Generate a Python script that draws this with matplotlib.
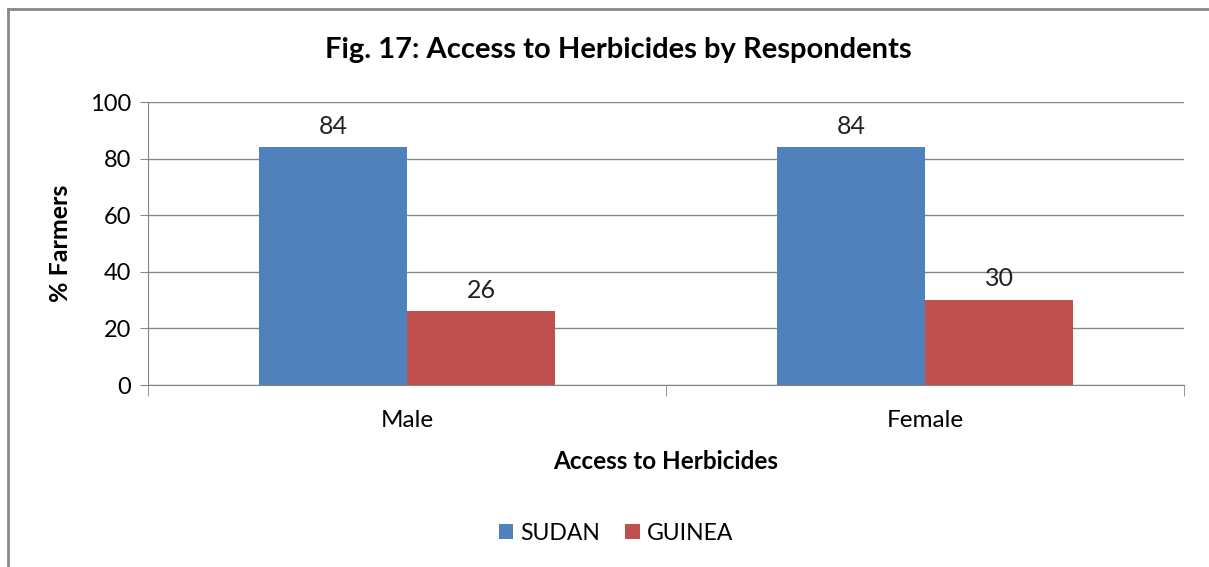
import matplotlib.pyplot as plt
import numpy as np
from matplotlib.lines import Line2D

plt.rcParams['font.family'] = ['Lato', 'DejaVu Sans']

CATEGORIES = ['Male', 'Female']
SERIES = ['SUDAN', 'GUINEA']
SUDAN = [84, 84]
GUINEA = [26, 30]
COLORS = ['#4F81BD', '#C0504D']
Y_TICKS = [0, 20, 40, 60, 80, 100]

fig = plt.figure(figsize=(12.09, 5.67), dpi=100)
ax = fig.add_axes([148 / 1209, 1 - 385 / 567, 1036 / 1209, 283 / 567])

x = np.arange(len(CATEGORIES))
w = 148 / 518
for i, (vals, name) in enumerate(zip([SUDAN, GUINEA], SERIES)):
    pos = x + (i - 0.5) * w
    bars = ax.bar(pos, vals, width=w, color=COLORS[i], label=name, zorder=3)
    for b, v in zip(bars, vals):
        ax.annotate(str(v), (b.get_x() + b.get_width() / 2, v),
                    xytext=(0, 7), textcoords='offset points',
                    ha='center', va='bottom', fontsize=18, color='#222222')

ax.set_xlim(-0.5, 1.5)
ax.set_ylim(0, 100)
ax.set_yticks(Y_TICKS)
ax.tick_params(axis='y', labelsize=17, length=6, color='#868686', pad=6)
ax.yaxis.grid(True, color='#868686', linewidth=1, zorder=0)

ax.set_xticks(x)
ax.set_xticklabels(CATEGORIES, fontsize=17.5)
ax.set_xticks([-0.5, 0.5, 1.5], minor=True)
ax.tick_params(axis='x', which='major', length=0, pad=18)
ax.tick_params(axis='x', which='minor', length=8, color='#868686')

for s in ['top', 'right']:
    ax.spines[s].set_visible(False)
ax.spines['left'].set_color('#868686')
ax.spines['bottom'].set_color('#868686')

ax.set_xlabel('Access to Herbicides', fontsize=17.5, fontweight='bold', labelpad=14)
fig.text(60 / 1209, 1 - 243 / 567, '% Farmers', rotation=90, fontsize=18,
         fontweight='bold', ha='center', va='center')

fig.text(618 / 1209, 1 - 50 / 567, 'Fig. 17: Access to Herbicides by Respondents',
         fontsize=21, fontweight='bold', ha='center', va='center')

fig.legend(loc='center', bbox_to_anchor=(616 / 1209, 1 - 533 / 567), ncol=2,
           frameon=False, fontsize=16.5, handlelength=0.65, handleheight=0.65,
           columnspacing=1.1, handletextpad=0.3)

# chart area border
fig.add_artist(Line2D([8 / 1209, 8 / 1209], [0, 1 - 9 / 567],
                      transform=fig.transFigure, color='#888888', linewidth=2))
fig.add_artist(Line2D([8 / 1209, 1], [1 - 9 / 567, 1 - 9 / 567],
                      transform=fig.transFigure, color='#888888', linewidth=2))

fig.savefig('out.png', dpi=100)
